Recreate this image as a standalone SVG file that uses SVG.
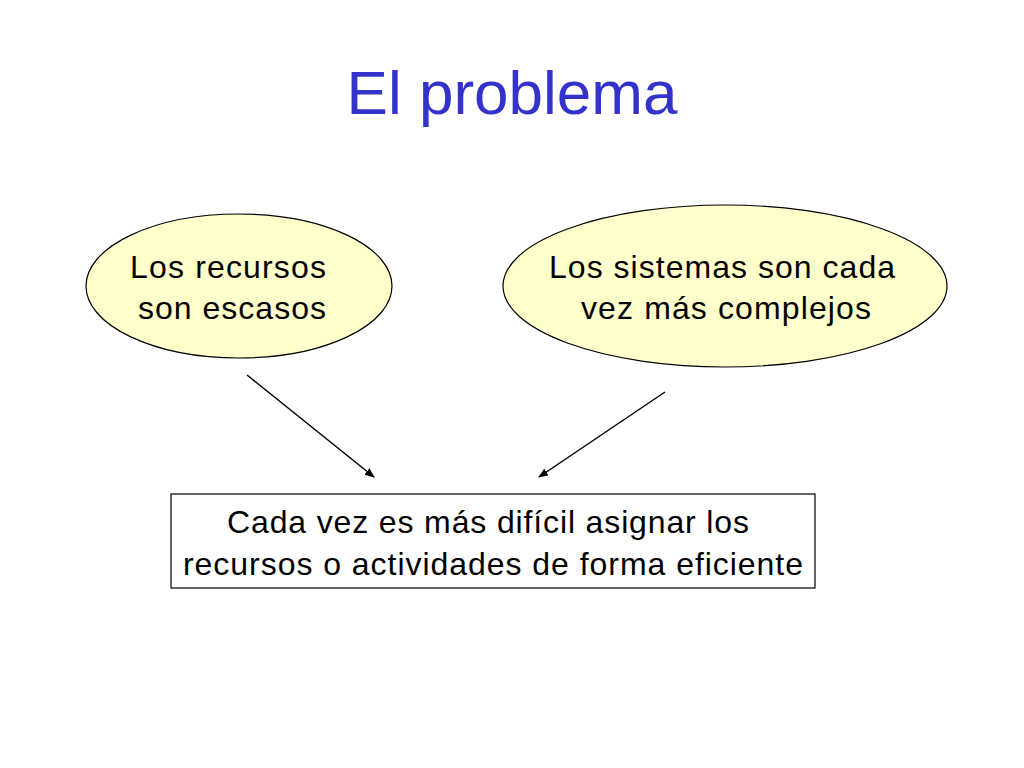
<svg xmlns="http://www.w3.org/2000/svg" width="1024" height="768" viewBox="0 0 1024 768">
<style>
.t{font-family:"Liberation Sans",Arial,sans-serif;font-size:32px;fill:#000;text-anchor:middle}
.e{fill:#FFFFCC;stroke:#000;stroke-width:1.2}
.c{stroke:#000;stroke-width:1.5;fill:none;marker-end:url(#a)}
</style>
<defs><marker id="a" markerWidth="10" markerHeight="8" refX="9" refY="4" orient="auto" markerUnits="userSpaceOnUse"><path d="M0,0 L10,4 L0,8 Z" fill="#000"/></marker></defs>
<rect width="1024" height="768" fill="#fff"/>
<text x="512" y="114" font-family="Liberation Sans,Arial,sans-serif" font-size="62" fill="#3333CC" text-anchor="middle">El problema</text>
<g id="n1"><ellipse class="e" cx="239" cy="286" rx="153" ry="72"/><text class="t" x="228" y="278" textLength="196">Los recursos</text><text class="t" x="232" y="319" textLength="188">son escasos</text></g>
<g id="n2"><ellipse class="e" cx="725" cy="286" rx="222" ry="81"/><text class="t" x="722" y="278" textLength="346">Los sistemas son cada</text><text class="t" x="726" y="319" textLength="290">vez más complejos</text></g>
<g id="n3"><rect x="171" y="494" width="644" height="94" fill="#fff" stroke="#000" stroke-width="1.2"/><text class="t" x="488" y="533" textLength="522">Cada vez es más difícil asignar los</text><text class="t" x="493" y="575" textLength="620">recursos o actividades de forma eficiente</text></g>
<g id="connectors"><line class="c" x1="247" y1="375" x2="374" y2="477"/><line class="c" x1="665" y1="392" x2="539" y2="477"/></g>
</svg>
